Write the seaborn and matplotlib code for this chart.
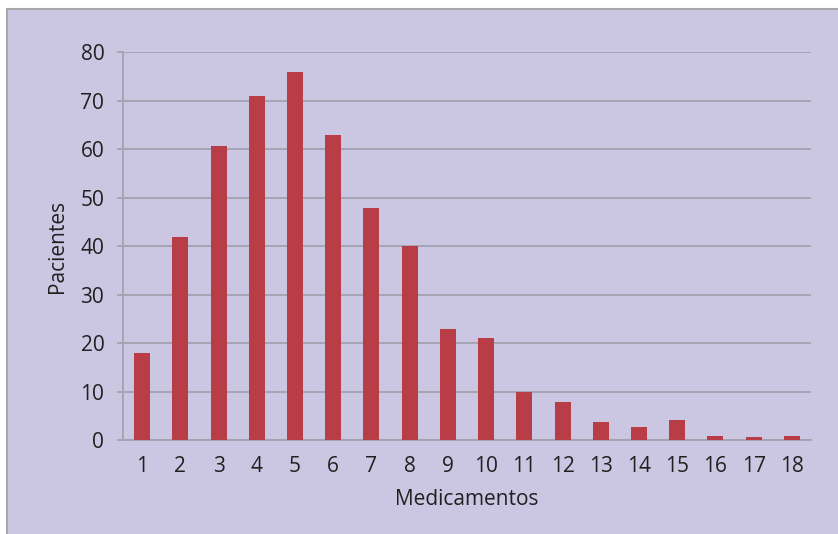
import matplotlib
matplotlib.use("Agg")
import matplotlib.pyplot as plt
from matplotlib.patches import Rectangle
import seaborn as sns
import pandas as pd

# Number of medications per patient and how many patients take each count
medicamentos = [str(i) for i in range(1, 19)]
pacientes = [18, 42, 60.6, 71, 76, 63, 48, 40, 23, 21, 10, 8, 3.8, 2.7, 4.2, 0.9, 0.7, 0.9]
y_ticks = [0, 10, 20, 30, 40, 50, 60, 70, 80]

df = pd.DataFrame({"Medicamentos": medicamentos, "Pacientes": pacientes})

sns.set_theme(style="white")
plt.rcParams["font.family"] = ["Open Sans", "DejaVu Sans"]

bg = "#CBC7E3"
grid = "#A4A2AE"
text = "#231F20"
bar_color = "#B93D46"

fig = plt.figure(figsize=(8.38, 5.34), dpi=100, facecolor="white")
W, H = 838, 534
# Lavender panel with grey border behind the chart
fig.patches.append(Rectangle((7 / W, -0.01), 1.0, (534 - 9) / H + 0.01,
                             transform=fig.transFigure, facecolor=bg,
                             edgecolor="#A8A8A8", linewidth=1.5, zorder=-10))

ax = fig.add_axes([123 / W, 1 - 440.3 / H, (811 - 123) / W, (440.3 - 52.3) / H])
ax.set_facecolor("none")

sns.barplot(data=df, x="Medicamentos", y="Pacientes", order=medicamentos,
            color=bar_color, saturation=1, width=0.42, linewidth=0,
            ax=ax, zorder=3)

ax.set_ylim(0, 80)
ax.set_xlim(-0.5, len(medicamentos) - 0.5)
ax.set_yticks(y_ticks)
ax.yaxis.grid(True, color=grid, linewidth=1.3, zorder=1)
ax.set_axisbelow(True)

for side in ["top", "right"]:
    ax.spines[side].set_visible(False)
ax.spines["left"].set_color(grid)
ax.spines["left"].set_linewidth(1.3)
ax.spines["bottom"].set_color(grid)
ax.spines["bottom"].set_linewidth(1.3)

ax.tick_params(axis="y", left=True, length=4.5, width=1.3, color=grid,
               pad=9, labelsize=15, labelcolor=text)
ax.tick_params(axis="x", bottom=False, length=0, pad=11,
               labelsize=15, labelcolor=text)

ax.set_xlabel("Medicamentos", fontsize=15, color=text, labelpad=9)
ax.set_ylabel("Pacientes", fontsize=15, color=text, labelpad=9)

fig.savefig("out.png", dpi=100, facecolor="white")
